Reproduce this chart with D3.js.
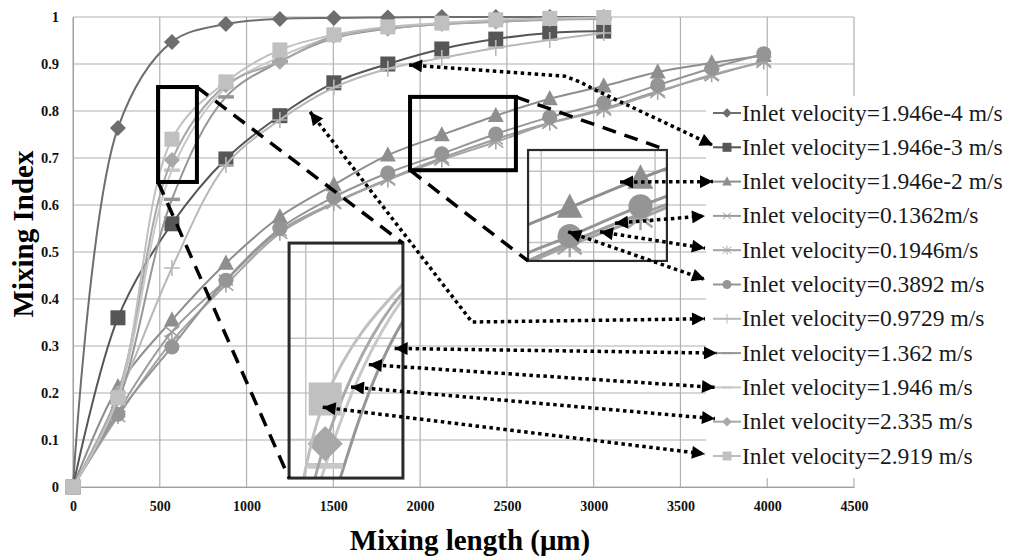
<!DOCTYPE html>
<html><head><meta charset="utf-8">
<script src="https://cdn.jsdelivr.net/npm/d3@7"></script>
<style>body{margin:0;background:#fff}svg{display:block}</style>
</head><body>
<svg id="c" width="1012" height="558"></svg>
<script>
// ---------- DATA ----------
const lengthShort = [0,259,570,881,1192,1503,1814,2125,2436,2747,3058];
const lengthLong  = [0,259,570,881,1192,1503,1814,2125,2436,2747,3058,3369,3680,3980];
const v1946e4 = [0,0.764,0.947,0.985,0.996,0.998,0.999,1,1,1,1];
const v1946e3 = [0,0.36,0.56,0.698,0.79,0.86,0.90,0.932,0.953,0.966,0.970];
const v1946e2 = [0,0.213,0.355,0.476,0.575,0.643,0.706,0.749,0.79,0.826,0.853,0.883,0.902,0.918];
const v01362  = [0,0.16,0.33,0.44,0.545,0.605,0.655,0.70,0.74,0.775,0.805,0.842,0.875,0.906];
const v01946  = [0,0.15,0.31,0.43,0.54,0.603,0.653,0.696,0.734,0.774,0.802,0.84,0.877,0.904];
const v03892  = [0,0.155,0.298,0.44,0.55,0.617,0.668,0.709,0.751,0.787,0.817,0.855,0.891,0.922];
const v09729  = [0,0.19,0.466,0.685,0.781,0.85,0.89,0.913,0.934,0.951,0.966];
const v1362   = [0,0.18,0.612,0.83,0.905,0.955,0.975,0.985,0.99,0.994,0.996];
const v1946   = [0,0.19,0.674,0.85,0.915,0.958,0.977,0.986,0.992,0.996,0.998];
const v2335   = [0,0.2,0.696,0.855,0.905,0.96,0.975,0.985,0.99,0.995,0.997];
const v2919   = [0,0.19,0.74,0.862,0.93,0.962,0.979,0.987,0.994,0.997,0.999];
const seriesNames = ["Inlet velocity=1.946e-4 m/s","Inlet velocity=1.946e-3 m/s","Inlet velocity=1.946e-2 m/s",
  "Inlet velocity=0.1362m/s","Inlet velocity=0.1946m/s","Inlet velocity=0.3892 m/s","Inlet velocity=0.9729 m/s",
  "Inlet velocity=1.362 m/s","Inlet velocity=1.946 m/s","Inlet velocity=2.335 m/s","Inlet velocity=2.919 m/s"];
const xTicks = [0,500,1000,1500,2000,2500,3000,3500,4000,4500];
const yTicks = [0,0.1,0.2,0.3,0.4,0.5,0.6,0.7,0.8,0.9,1];
const yTickLabels = ["0","0.1","0.2","0.3","0.4","0.5","0.6","0.7","0.8","0.9","1"];
const xTitle = "Mixing length (\u03bcm)";
const yTitle = "Mixing Index";

// ---------- SETUP ----------
const svg = d3.select("#c");
const FONT = "'Liberation Serif','Times New Roman',serif";
const x = d3.scaleLinear().domain([0,4500]).range([73,854]);
const y = d3.scaleLinear().domain([0,1]).range([487,17]);

const styles = [
  {c:"#6e6e6e", sym:"diamond"},
  {c:"#565656", sym:"square"},
  {c:"#8e8e8e", sym:"triangle"},
  {c:"#9c9c9c", sym:"x"},
  {c:"#a4a4a4", sym:"asterisk"},
  {c:"#959595", sym:"circle"},
  {c:"#b8b8b8", sym:"plus"},
  {c:"#969696", sym:"dash"},
  {c:"#c8c8c8", sym:"dash"},
  {c:"#a8a8a8", sym:"diamond"},
  {c:"#c0c0c0", sym:"square"}
];
const xsList = [lengthShort,lengthShort,lengthLong,lengthLong,lengthLong,lengthLong,lengthShort,lengthShort,lengthShort,lengthShort,lengthShort];
const ysList = [v1946e4,v1946e3,v1946e2,v01362,v01946,v03892,v09729,v1362,v1946,v2335,v2919];
const series = seriesNames.map((n,i)=>({name:n, pts:xsList[i].map((xv,j)=>[xv,ysList[i][j]]), ...styles[i]}));

function symPath(sym, s){
  switch(sym){
    case "diamond": return `M0,${-s}L${s},0L0,${s}L${-s},0Z`;
    case "square": return `M${-s},${-s}h${2*s}v${2*s}h${-2*s}Z`;
    case "triangle": return `M0,${-s*1.1}L${s},${s*0.8}L${-s},${s*0.8}Z`;
    case "circle": return `M${-s},0a${s},${s} 0 1,0 ${2*s},0a${s},${s} 0 1,0 ${-2*s},0Z`;
    case "x": return `M${-s},${-s*0.75}L${s},${s*0.75}M${-s},${s*0.75}L${s},${-s*0.75}`;
    case "asterisk": return `M${-s},${-s*0.75}L${s},${s*0.75}M${-s},${s*0.75}L${s},${-s*0.75}M0,${-s}V${s}`;
    case "plus": return `M${-s},0H${s}M0,${-s}V${s}`;
    case "dash": return `M${-s},0H${s}`;
  }
}
const filled = s => ["diamond","square","triangle","circle"].includes(s);
const baseSize = {diamond:8, square:7.5, triangle:8, circle:7.5, x:7, asterisk:7.5, plus:8, dash:8};

function drawMarker(g, sym, color, cx, cy, scale){
  const s = baseSize[sym]*scale;
  const p = g.append("path").attr("d", symPath(sym,s)).attr("transform",`translate(${cx},${cy})`);
  if(filled(sym)) p.attr("fill",color).attr("stroke","none");
  else p.attr("fill","none").attr("stroke",color).attr("stroke-width", sym==="dash"?3.5*Math.min(scale,1.6):1.6*Math.min(scale,1.5));
}

function drawSeries(g, list, xs, ys, mscale, lw){
  const [d0,d1] = xs.domain();
  list.forEach(sr=>{
    const line = d3.line().x(d=>xs(d[0])).y(d=>ys(d[1])).curve(d3.curveCatmullRom.alpha(0.5));
    g.append("path").attr("d", line(sr.pts)).attr("fill","none").attr("stroke",sr.c).attr("stroke-width",lw);
    sr.pts.filter(d=>d[0]>=d0 && d[0]<=d1).forEach(d=>drawMarker(g, sr.sym, sr.c, xs(d[0]), ys(d[1]), mscale));
  });
}

// ---------- GRID ----------
const grid = svg.append("g");
xTicks.forEach(t=>grid.append("line").attr("x1",x(t)).attr("x2",x(t)).attr("y1",y(0)).attr("y2",y(1))
  .attr("stroke","#b0b0b0").attr("stroke-width",1.2));
yTicks.forEach(t=>grid.append("line").attr("x1",x(0)).attr("x2",x(4500)).attr("y1",y(t)).attr("y2",y(t))
  .attr("stroke","#b0b0b0").attr("stroke-width",1.2));

// ---------- AXES LABELS ----------
const yAxis = d3.axisLeft(y).tickValues(yTicks).tickFormat((d,i)=>yTickLabels[i]).tickSize(0).tickPadding(14);
const ya = svg.append("g").attr("transform",`translate(${x(0)},0)`).call(yAxis);
ya.select(".domain").attr("stroke","#a0a0a0");
ya.selectAll("text").attr("font-family",FONT).attr("font-weight","bold").attr("font-size",14.5).attr("fill","#111");
const xAxis = d3.axisBottom(x).tickValues(xTicks).tickFormat(d3.format("d")).tickSize(0).tickPadding(14);
const xa = svg.append("g").attr("transform",`translate(0,${y(0)})`).call(xAxis);
xa.select(".domain").attr("stroke","#a0a0a0");
xa.selectAll("text").attr("font-family",FONT).attr("font-weight","bold").attr("font-size",14).attr("fill","#111");

svg.append("text").attr("x",470).attr("y",550).attr("text-anchor","middle")
  .attr("font-family",FONT).attr("font-weight","bold").attr("font-size",29).text(xTitle);
svg.append("text").attr("transform","translate(33,234) rotate(-90)").attr("text-anchor","middle")
  .attr("font-family",FONT).attr("font-weight","bold").attr("font-size",29).text(yTitle);

// ---------- SERIES ----------
const plot = svg.append("g");
drawSeries(plot, series, x, y, 1, 2);

// ---------- INSETS ----------
const defs = svg.append("defs");
function inset(id, dom, box, list, mscale, gridX, gridY, bw){
  const X0 = x(box[0]), X1 = x(box[1]), Y0 = y(box[2]), Y1 = y(box[3]);
  const xs = d3.scaleLinear().domain([dom[0],dom[1]]).range([X0,X1]);
  const ys = d3.scaleLinear().domain([dom[2],dom[3]]).range([Y1,Y0]);
  defs.append("clipPath").attr("id",id).append("rect").attr("x",X0).attr("y",Y0).attr("width",X1-X0).attr("height",Y1-Y0);
  const g = svg.append("g").attr("clip-path",`url(#${id})`);
  gridX.forEach(t=>g.append("line").attr("x1",xs(t)).attr("x2",xs(t)).attr("y1",Y0).attr("y2",Y1).attr("stroke","#c4c4c4").attr("stroke-width",1.5));
  gridY.forEach(t=>g.append("line").attr("x1",X0).attr("x2",X1).attr("y1",ys(t)).attr("y2",ys(t)).attr("stroke","#c4c4c4").attr("stroke-width",1.5));
  drawSeries(g, list, xs, ys, mscale, 3);
  svg.append("rect").attr("x",X0).attr("y",Y0).attr("width",X1-X0).attr("height",Y1-Y0)
    .attr("fill","none").attr("stroke","#2a2a2a").attr("stroke-width",bw);
  return {xs, ys};
}
const src1 = [490,714,0.851,0.649];
const src2 = [1942,2552,0.830,0.674];
const box1 = [1245,1901,0.519,0.019];
const box2 = [2622,3422,0.717,0.481];
const in1 = inset("clip1",[440,850,0.662,0.894], box1, series.slice(7), 2.2, [500], [0.7,0.8], 3);
const in2 = inset("clip2",[1942,2552,0.674,0.830], box2, series.slice(2,6), 1.6, [2000,2500], [0.7,0.8], 2.2);

[src1,src2].forEach(r=>svg.append("rect").attr("x",x(r[0])).attr("y",y(r[2])).attr("width",x(r[1])-x(r[0])).attr("height",y(r[3])-y(r[2]))
  .attr("fill","none").attr("stroke","#000").attr("stroke-width",4));

const conn = [[src1[1],src1[2],box1[1],box1[2]],[src1[0],src1[3],box1[0],box1[3]],
              [src2[1],src2[2],box2[1],box2[2]],[src2[0],src2[3],box2[0],box2[3]]];
conn.forEach(c=>svg.append("line").attr("x1",x(c[0])).attr("y1",y(c[1])).attr("x2",x(c[2])).attr("y2",y(c[3]))
  .attr("stroke","#000").attr("stroke-width",3.5).attr("stroke-dasharray","14,9"));

// ---------- LEGEND ----------
const LX = 706, LY0 = 96, LY1 = 478, LSTEP = 34.3, LFIRST = 113;
svg.append("rect").attr("x",LX).attr("y",LY0).attr("width",1012-LX).attr("height",LY1-LY0).attr("fill","#fff");
const leg = svg.append("g");
series.forEach((sr,i)=>{
  const cy = LFIRST + i*LSTEP;
  leg.append("line").attr("x1",713).attr("x2",741).attr("y1",cy).attr("y2",cy).attr("stroke",sr.c).attr("stroke-width",2);
  drawMarker(leg, sr.sym, sr.c, 727, cy, 0.6);
  leg.append("text").attr("x",742).attr("y",cy+7.5).attr("font-family",FONT).attr("font-size",23.5).attr("fill","#1a1a1a").text(sr.name);
});

// ---------- ARROWS ----------
defs.append("marker").attr("id","ah").attr("viewBox","0 0 10 10").attr("refX",10).attr("refY",5)
  .attr("markerUnits","userSpaceOnUse").attr("markerWidth",14).attr("markerHeight",13).attr("orient","auto-start-reverse")
  .append("path").attr("d","M0,0L10,5L0,10Z").attr("fill","#000");
const legY = i => LFIRST + i*LSTEP;
function arrow(pts){
  const p = d3.path();
  pts.forEach((q,i)=> i? p.lineTo(q[0],q[1]) : p.moveTo(q[0],q[1]));
  svg.append("path").attr("d",p.toString()).attr("fill","none").attr("stroke","#000").attr("stroke-width",3.5)
    .attr("stroke-dasharray","3.5,3.5").attr("marker-start","url(#ah)").attr("marker-end","url(#ah)");
}
arrow([[x(1936),y(0.898)],[x(2835),y(0.874)],[x(2920),y(0.862)],[x(3008),y(0.845)],[713,legY(1)-2]]);
arrow([[in2.xs(2346),in2.ys(0.785)],[713,legY(2)]]);
arrow([[in2.xs(2324),in2.ys(0.727)],[705,legY(3)]]);
arrow([[in2.xs(2258),in2.ys(0.715)],[705,legY(4)-2]]);
arrow([[in2.xs(2118),in2.ys(0.715)],[705,legY(5)-5]]);
arrow([[x(1366),y(0.798)],[x(2299),y(0.351)],[705,legY(6)]]);
arrow([[in1.xs(820),in1.ys(0.790)],[717,legY(7)]]);
arrow([[in1.xs(727),in1.ys(0.774)],[715,legY(8)]]);
arrow([[in1.xs(663),in1.ys(0.752)],[715,legY(9)-3]]);
arrow([[in1.xs(561),in1.ys(0.732)],[705,legY(10)-2]]);
</script>
</body></html>
